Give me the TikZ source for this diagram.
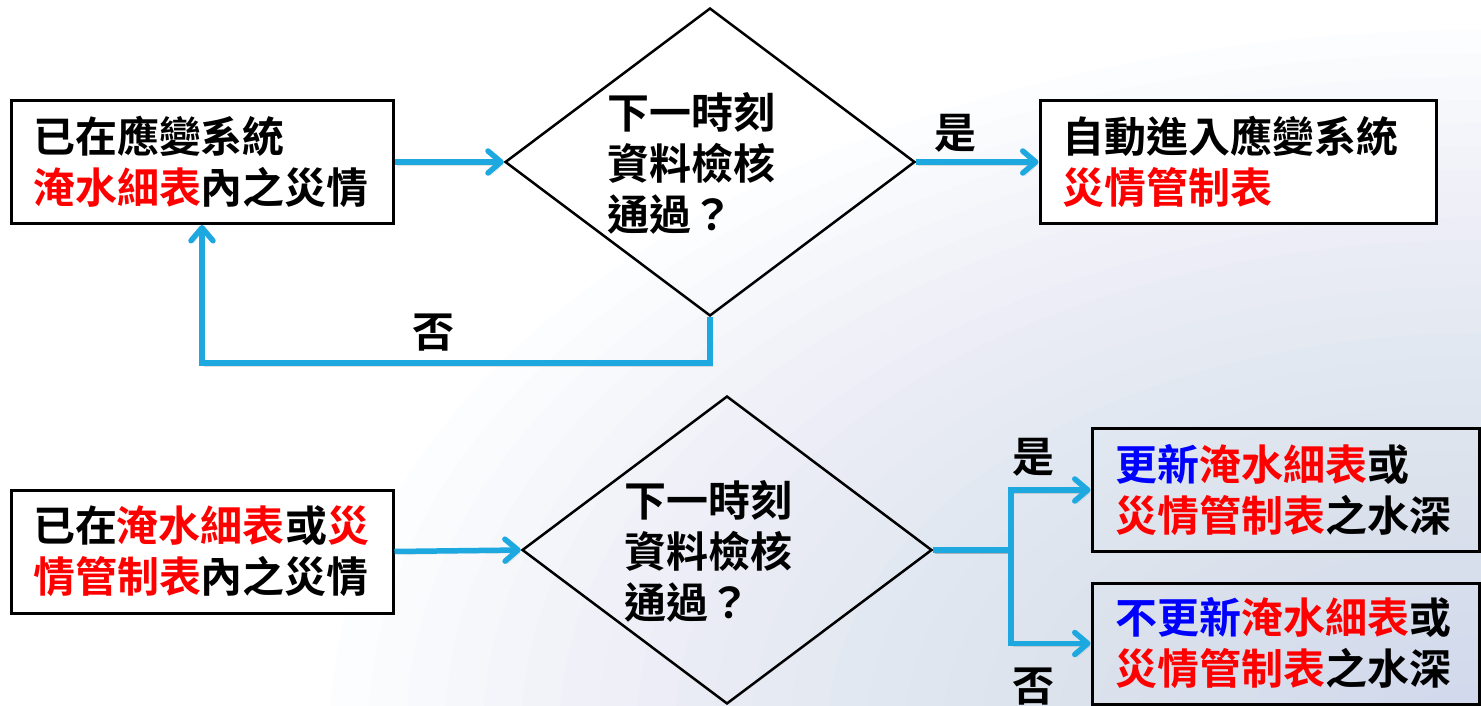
\documentclass[tikz,border=0pt]{standalone}
\usepackage{fontspec}
\setmainfont{Noto Sans CJK TC}[BoldFont=* Bold]
\usetikzlibrary{shapes.geometric,arrows.meta}
\definecolor{arrcol}{RGB}{30,168,224}
\definecolor{bgb}{RGB}{196,209,236}
\begin{document}
\begin{tikzpicture}[x=1pt,y=-1pt,
  txt/.style={font=\bfseries\fontsize{42}{51}\selectfont},
  box/.style={txt, draw=black, line width=3pt, align=left, minimum height=123pt, inner ysep=0pt},
  dia/.style={diamond, draw=black, line width=2.5pt, minimum width=410pt, minimum height=308pt, inner sep=0pt},
  dtxt/.style={txt, align=left, inner sep=0pt, anchor=west},
  arr/.style={draw=arrcol, line width=5.5pt, -{Straight Barb[length=13pt,width=22pt,round]},
    preaction={draw=black, opacity=0.12, transform canvas={shift={(2pt,-3pt)}}}},
  lbl/.style={txt, inner sep=0pt}]
\useasboundingbox (0,0) rectangle (1481,706);
\begin{scope}
\clip (0,0) rectangle (1481,706);
\fill[white] (0,0) rectangle (1481,706);
\foreach \i in {1,...,30}{
  \fill[bgb, fill opacity=0.035] (1480,730) ellipse ({38.33*\i} and {23.33*\i});
}
\end{scope}

% top row
\node[box, fill=white, text width=338pt, inner xsep=22pt] (b1) at (202,162)
  {已在應變系統\\\textcolor{red}{淹水細表}內之災情};
\node[dia] (d1) at (710,162) {};
\node[dtxt] (d1t) at (607,163) {下一時刻\\資料檢核\\通過？};
\node[box, fill=white, text width=352pt, inner xsep=22pt] (b2) at (1238,162)
  {自動進入應變系統\\\textcolor{red}{災情管制表}};

\coordinate (lp) at (0,363);
\draw[arr] (b1.east) -- (d1.west);
\draw[arr] (d1.east) -- (b2.west);
\draw[arr] (d1.south) -- (d1.south |- lp) -| (b1.south);
\node[lbl] (yes1) at (955,133) {是};
\node[lbl] (no1) at (433,333) {否};

% bottom row
\node[box, fill=white, text width=338pt, inner xsep=22pt] (b3) at (202,551.5)
  {已在\textcolor{red}{淹水細表}或\textcolor{red}{災}\\\textcolor{red}{情管制表}內之災情};
\node[dia] (d2) at (727,550) {};
\node[dtxt] (d2t) at (624,551) {下一時刻\\資料檢核\\通過？};
\node[box, text width=341pt, inner xsep=23pt] (b4) at (1285.5,490)
  {\textcolor{blue}{更新}\textcolor{red}{淹水細表}或\\\textcolor{red}{災情管制表}之水深};
\node[box, text width=341pt, inner xsep=23pt, minimum height=121pt] (b5) at (1285.5,643.5)
  {\textcolor{blue}{不更新}\textcolor{red}{淹水細表}或\\\textcolor{red}{災情管制表}之水深};

\coordinate (br) at (1011,550);
\draw[arr] (b3.east) -- (d2.west);
\draw[arr] (d2.east) -- (br) |- (b4.west);
\draw[arr] (d2.east) -- (br) |- (b5.west);
\node[lbl] (yes2) at (1033,457) {是};
\node[lbl] (no2) at (1033,687) {否};
\end{tikzpicture}
\end{document}
